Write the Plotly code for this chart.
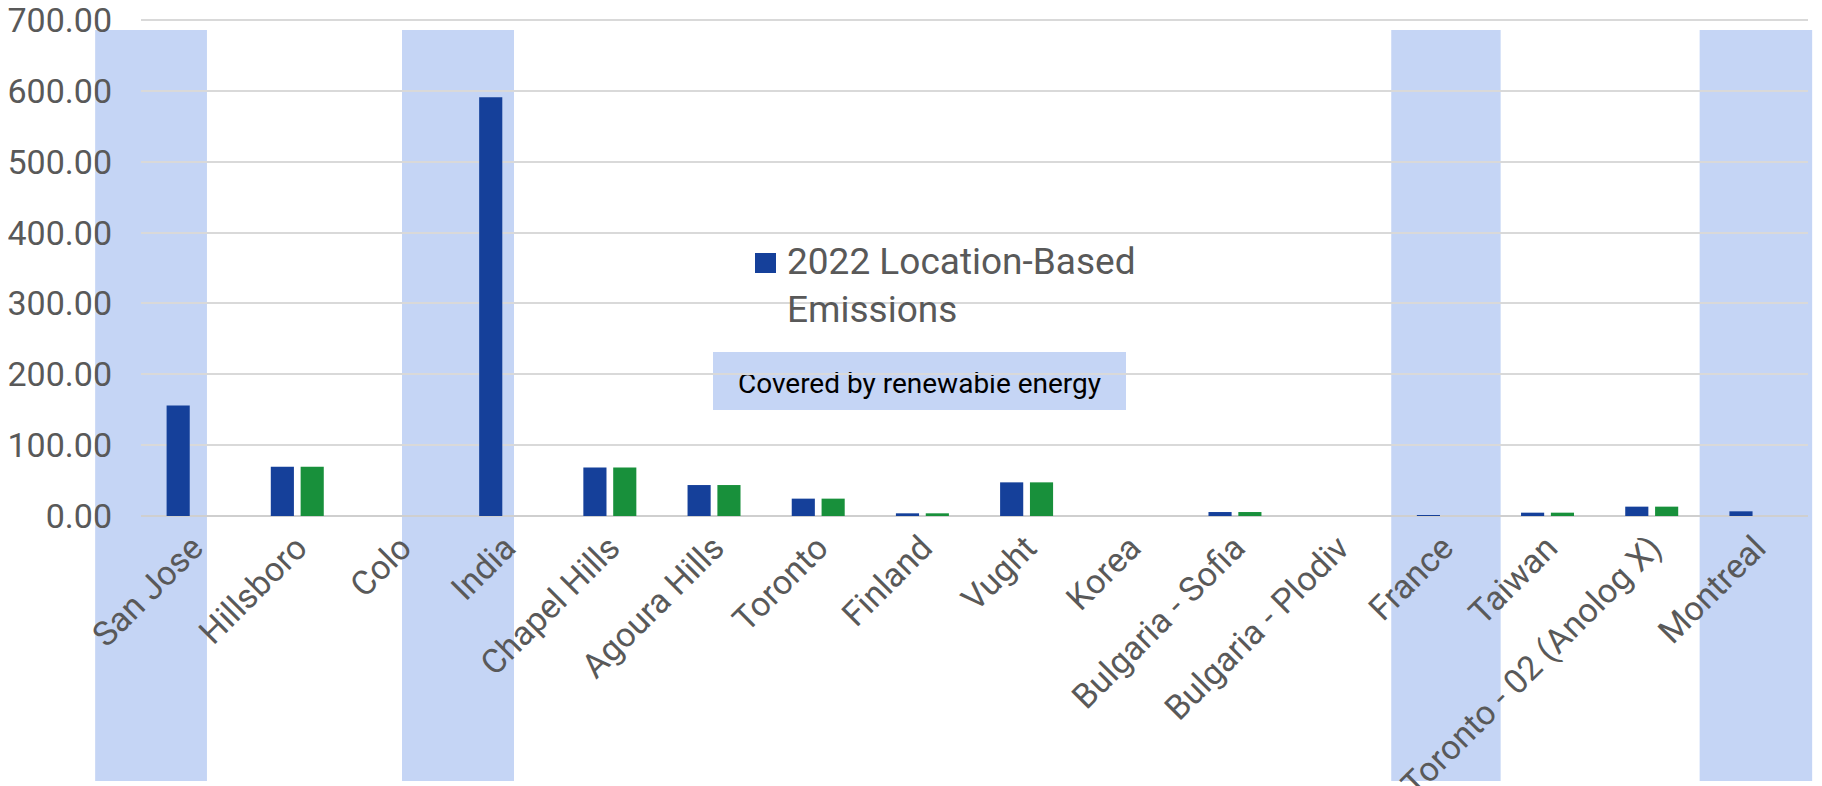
import plotly.graph_objects as go

# ---------------- data ----------------
categories = ["San Jose", "Hillsboro", "Colo", "India", "Chapel Hills", "Agoura Hills",
              "Toronto", "Finland", "Vught", "Korea", "Bulgaria - Sofia",
              "Bulgaria - Plodiv", "France", "Taiwan", "Toronto - 02 (Anolog X)", "Montreal"]
location_based = [156.0, 69.5, None, 591.0, 68.6, 43.7, 24.5, 3.8, 47.5, None, 5.6,
                  None, 1.4, 4.7, 13.2, 6.6]
market_based = [None, 69.5, None, None, 68.6, 43.7, 24.5, 3.8, 47.5, None, 5.6,
                None, None, 4.7, 13.2, None]
series_names = ["2022 Location-Based Emissions", "2022 Market-Based Emissions"]
y_ticks = [0, 100, 200, 300, 400, 500, 600, 700]
highlight_note = "Covered by renewabie energy"
# highlighted categories with (left, right) extents in category units around the category
highlights = [("San Jose", -0.94, 0.133), ("India", -0.995, 0.08),
              ("France", -0.50, 0.55), ("Montreal", -0.54, 0.54)]

# ---------------- style ----------------
BLUE = "#15409a"
GREEN = "#18903b"
HL = "#c5d5f5"
GRID = "#d9d9d9"
TXT = "#595959"
FONT = "Roboto"

W, H = 1822, 786
BODY = 8  # default page margin of the html body
ML, MR, MT, MB = 141 - BODY, 14 + BODY, 19 - BODY, 270 + BODY
N = len(categories)
Y_MAX = 701.5  # a hair above the top tick so its grid line is drawn

fig = go.Figure()
fig.add_trace(go.Bar(x=categories, y=location_based, name=series_names[0],
                     marker=dict(color=BLUE, line=dict(width=0)), showlegend=False))
fig.add_trace(go.Bar(x=categories, y=market_based, name=series_names[1],
                     marker=dict(color=GREEN, line=dict(width=0)), showlegend=False))

PW = W - ML - MR  # plot width in px
PH = H - MT - MB


def px_x(p):
    """viewport x pixel -> paper coordinate"""
    return (p - BODY - ML) / PW


def px_y(p):
    """viewport y pixel -> paper coordinate"""
    return (H - MB - (p - BODY)) / PH


shapes = []
for cat, lo, hi in highlights:
    i = categories.index(cat)
    shapes.append(dict(type="rect", xref="paper", yref="paper",
                       x0=(i + 0.5 + lo) / N, x1=(i + 0.5 + hi) / N,
                       y0=px_y(781), y1=px_y(30), fillcolor=HL, line=dict(width=0),
                       layer="below"))

# "Covered by renewable energy" key box
shapes.append(dict(type="rect", xref="paper", yref="paper",
                   x0=px_x(713), x1=px_x(1126), y0=px_y(410), y1=px_y(352),
                   fillcolor=HL, line=dict(width=0), layer="below",
                   label=dict(text=highlight_note, textposition="middle center",
                              font=dict(family=FONT, size=28, color="#000000"))))

# legend symbol
shapes.append(dict(type="rect", xref="paper", yref="paper",
                   x0=px_x(755), x1=px_x(776), y0=px_y(273), y1=px_y(253),
                   fillcolor=BLUE, line=dict(width=0), layer="above"))

legend_text = series_names[0].replace("Location-Based ", "Location-Based<br>")

fig.update_layout(
    width=W, height=H, autosize=False,
    margin=dict(l=ML, r=MR, t=MT, b=MB, pad=0),
    paper_bgcolor="white", plot_bgcolor="rgba(0,0,0,0)",
    barmode="group", bargap=0.427, bargroupgap=0.225,
    font=dict(family=FONT, color=TXT, size=34),
    shapes=shapes,
    annotations=[dict(text=legend_text, xref="paper", yref="paper",
                      x=px_x(785), y=px_y(285), xanchor="left", yanchor="middle",
                      align="left", showarrow=False,
                      font=dict(family=FONT, size=37, color=TXT))],
    xaxis=dict(type="category", tickangle=-45, showgrid=False, zeroline=False,
               showline=False, ticks="", automargin=False,
               tickfont=dict(family=FONT, size=34, color=TXT),
               ticklabelstandoff=4, ticklabeloverflow="allow"),
    yaxis=dict(range=[0, Y_MAX], tickvals=y_ticks, tickformat=".2f", automargin=False,
               showgrid=True, gridcolor=GRID, gridwidth=1.5, zeroline=True,
               zerolinecolor="#cfcfcf", zerolinewidth=2, showline=False, ticks="",
               tickfont=dict(family=FONT, size=34, color=TXT), ticklabelstandoff=28,
               ticklabeloverflow="allow"),
)

fig.write_html("out.html")
